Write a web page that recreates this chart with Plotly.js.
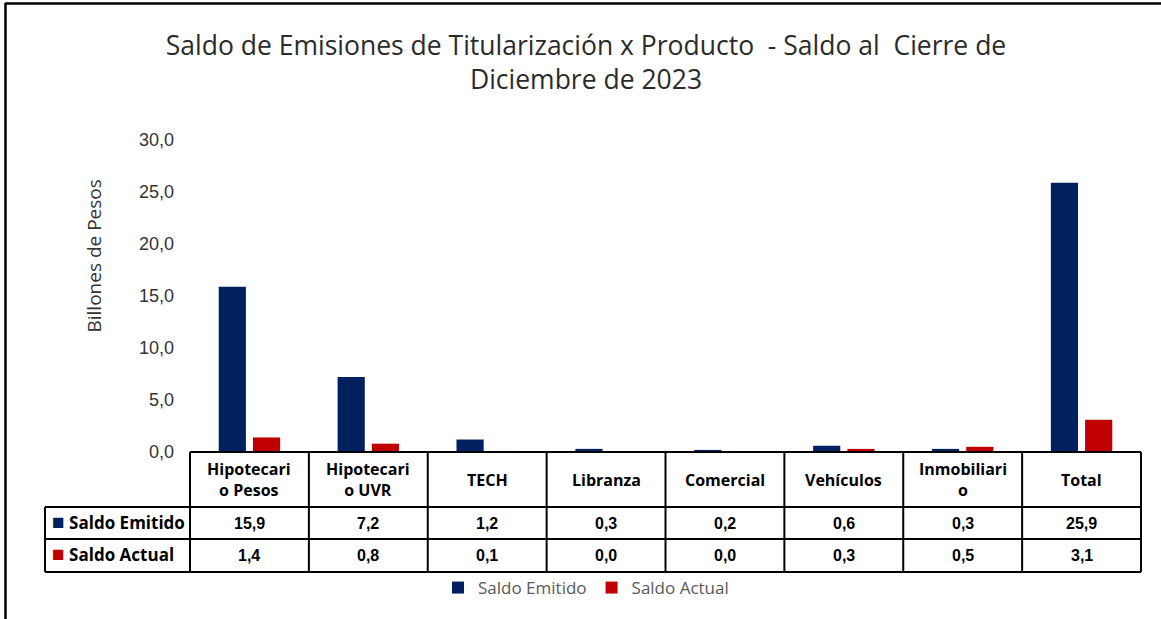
<!DOCTYPE html>
<html><head><meta charset="utf-8">
<script src="https://cdn.plot.ly/plotly-3.0.1.min.js"></script>
<style>html,body{margin:0;padding:0;background:#fff;} #chart{width:1161px;height:619px;}</style>
</head><body><div id="chart"></div>
<script>
const categories = ["Hipotecario Pesos", "Hipotecario UVR", "TECH", "Libranza", "Comercial", "Vehículos", "Inmobiliario", "Total"];
const headerLabels = ["Hipotecari<br>o Pesos", "Hipotecari<br>o UVR", "TECH", "Libranza", "Comercial", "Vehículos", "Inmobiliari<br>o", "Total"];
const saldoEmitido = [15.9, 7.2, 1.2, 0.3, 0.2, 0.6, 0.3, 25.9];
const saldoActual = [1.4, 0.8, 0.1, 0.0, 0.0, 0.3, 0.5, 3.1];
const seriesNames = ["Saldo Emitido", "Saldo Actual"];
const seriesColors = ["#002060", "#C00000"];
const chartTitle = "Saldo de Emisiones de Titularización x Producto \u00A0- Saldo al \u00A0Cierre de<br>Diciembre de 2023";
const yTitle = "Billones de Pesos";

// geometry (pixels)
const W = 1161, H = 619, mL = 45, mR = 20, mT = 140, mB = 167;
const plotW = W - mL - mR, plotH = H - mT - mB;
const axisLeftPx = 190;
const d0 = (axisLeftPx - mL) / plotW;
const px = p => (p - mL) / plotW;
const py = p => (H - mB - p) / plotH;

const fmt = v => v.toFixed(1).replace('.', ',');

const traces = [saldoEmitido, saldoActual].map((vals, k) => ({
  type: 'bar', x: categories, y: vals, name: seriesNames[k],
  marker: {color: seriesColors[k]}, hoverinfo: 'x+y'
}));

const lineStyle = {color: '#000', width: 2};
const shapes = [];
// header top (axis baseline)
shapes.push({type: 'line', xref: 'paper', yref: 'paper', x0: d0, x1: 1, y0: 0, y1: 0, line: lineStyle});
// row lines
[507, 539, 572].forEach(p => shapes.push({type: 'line', xref: 'paper', yref: 'paper', x0: 0, x1: 1, y0: py(p), y1: py(p), line: lineStyle}));
// verticals
shapes.push({type: 'line', xref: 'paper', yref: 'paper', x0: 0, x1: 0, y0: py(507), y1: py(572), line: lineStyle});
shapes.push({type: 'line', xref: 'paper', yref: 'paper', x0: d0, x1: d0, y0: 0, y1: py(572), line: lineStyle});
for (let i = 0; i < categories.length - 1; i++) {
  shapes.push({type: 'line', xref: 'x', yref: 'paper', x0: i + 0.5, x1: i + 0.5, y0: 0, y1: py(572), line: lineStyle});
}
shapes.push({type: 'line', xref: 'paper', yref: 'paper', x0: 1, x1: 1, y0: 0, y1: py(572), line: lineStyle});
// outer frame
shapes.push({type: 'line', xref: 'paper', yref: 'paper', x0: px(5), x1: px(W + 5), y0: py(3.5), y1: py(3.5), line: {color: '#000', width: 2.5}});
shapes.push({type: 'line', xref: 'paper', yref: 'paper', x0: px(5.5), x1: px(5.5), y0: py(3), y1: py(H + 5), line: {color: '#000', width: 2.5}});

const annotations = [];
const headFont = {family: 'Open Sans, sans-serif', size: 16, color: '#000', weight: 700};
const labelFont = {family: 'Open Sans, sans-serif', size: 17, color: '#000', weight: 700};
const valFont = {family: 'Liberation Sans, Arial, sans-serif', size: 16, color: '#000', weight: 700};
categories.forEach((c, i) => {
  annotations.push({xref: 'x', yref: 'paper', x: i, y: py(479.5), text: headerLabels[i], showarrow: false, font: headFont, yanchor: 'middle'});
  annotations.push({xref: 'x', yref: 'paper', x: i, y: py(523), text: fmt(saldoEmitido[i]), showarrow: false, font: valFont, yanchor: 'middle'});
  annotations.push({xref: 'x', yref: 'paper', x: i, y: py(555.5), text: fmt(saldoActual[i]), showarrow: false, font: valFont, yanchor: 'middle'});
});
[520.5, 553].forEach((p, k) => {
  annotations.push({xref: 'paper', yref: 'paper', x: px(50), xanchor: 'left', y: py(p), yanchor: 'middle', showarrow: false,
    text: "<span style='color:" + seriesColors[k] + ";font-size:21px'>■</span> " + seriesNames[k], font: labelFont});
});
annotations.push({xref: 'paper', yref: 'paper', x: px(93), y: py(256.5), textangle: -90, showarrow: false, text: yTitle,
  font: {family: 'Open Sans, sans-serif', size: 19, color: '#333'}, xanchor: 'center', yanchor: 'middle'});

const layout = {
  width: W, height: H,
  margin: {l: mL, r: mR, t: mT, b: mB, pad: 0},
  paper_bgcolor: '#fff', plot_bgcolor: '#fff',
  separators: ',.',
  title: {text: chartTitle, xref: 'container', yref: 'container', x: 586 / W, y: 1 - 55 / H, xanchor: 'center', yanchor: 'middle',
    font: {family: 'Open Sans, sans-serif', size: 26.5, color: '#2b2b2b'}},
  barmode: 'group', bargap: 0.424, bargroupgap: 0.206,
  xaxis: {domain: [d0, 1], showticklabels: false, showgrid: false, zeroline: false, showline: false, ticks: '', fixedrange: true},
  yaxis: {range: [0, 30], dtick: 5, tickformat: '.1f', showgrid: false, zeroline: false, showline: false, ticks: '',
    ticklabelstandoff: 15, automargin: false,
    tickfont: {family: 'Liberation Sans, Arial, sans-serif', size: 18, color: '#333'}},
  showlegend: true,
  legend: {orientation: 'h', x: px(586), xanchor: 'center', y: py(588), yanchor: 'middle', traceorder: 'normal',
    bgcolor: 'rgba(0,0,0,0)', borderwidth: 0,
    font: {family: 'Open Sans, sans-serif', size: 17, color: '#595959'}, itemwidth: 30},
  shapes: shapes, annotations: annotations
};

Plotly.newPlot('chart', traces, layout, {displayModeBar: false, staticPlot: true});
</script></body></html>
